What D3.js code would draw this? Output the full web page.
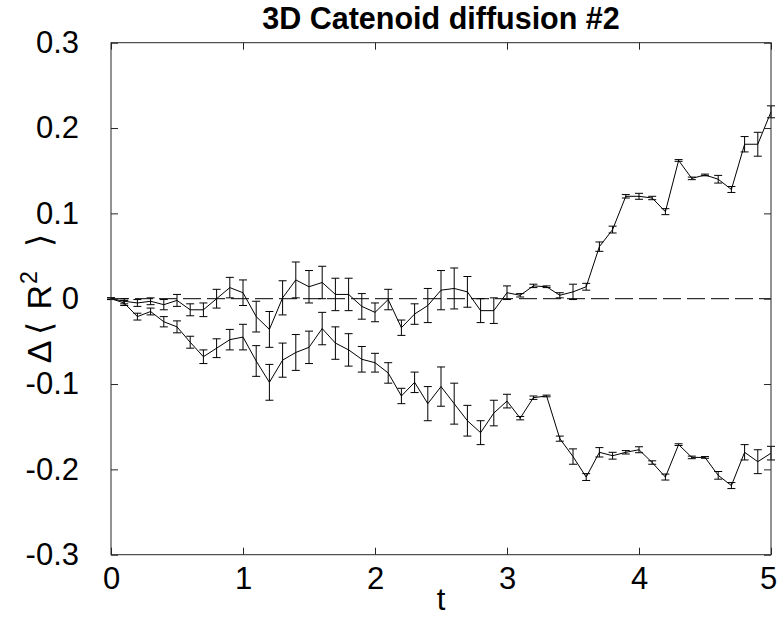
<!DOCTYPE html>
<html>
<head>
<meta charset="utf-8">
<script src="https://cdn.jsdelivr.net/npm/d3@7"></script>
<style>
  html, body { margin: 0; padding: 0; background: #fff; }
  svg { display: block; }
  text { font-family: "Liberation Sans", Arial, Helvetica, sans-serif; }
</style>
</head>
<body>
<svg id="chart" width="777" height="630"></svg>
<script>
// Sample times
const times = [0.0, 0.1, 0.2, 0.3, 0.4, 0.5, 0.6, 0.7, 0.8, 0.9,
               1.0, 1.1, 1.2, 1.3, 1.4, 1.5, 1.6, 1.7, 1.8, 1.9,
               2.0, 2.1, 2.2, 2.3, 2.4, 2.5, 2.6, 2.7, 2.8, 2.9,
               3.0, 3.1, 3.2, 3.3, 3.4, 3.5, 3.6, 3.7, 3.8, 3.9,
               4.0, 4.1, 4.2, 4.3, 4.4, 4.5, 4.6, 4.7, 4.8, 4.9, 5.0];

// Upper run: mean change of <R^2>
const upperMean = [0.000, -0.003, -0.005, -0.003, -0.007, -0.002, -0.013, -0.013, 0.000, 0.013,
                   0.007, -0.021, -0.036, 0.001, 0.022, 0.014, 0.019, 0.005, 0.005, -0.009,
                   -0.016, -0.001, -0.034, -0.018, -0.008, 0.010, 0.012, 0.008, -0.014, -0.014,
                   0.007, 0.004, 0.015, 0.014, 0.004, 0.008, 0.014, 0.061, 0.081, 0.120,
                   0.120, 0.118, 0.102, 0.162, 0.141, 0.145, 0.140, 0.128, 0.181, 0.181, 0.219];

// Lower run: mean change of <R^2>
const lowerMean = [0.000, -0.005, -0.021, -0.015, -0.027, -0.033, -0.051, -0.068, -0.058, -0.048,
                   -0.045, -0.073, -0.098, -0.072, -0.063, -0.057, -0.035, -0.052, -0.060, -0.071,
                   -0.075, -0.087, -0.114, -0.098, -0.123, -0.103, -0.123, -0.143, -0.157, -0.134,
                   -0.120, -0.140, -0.116, -0.114, -0.164, -0.185, -0.209, -0.180, -0.184, -0.180,
                   -0.177, -0.192, -0.209, -0.171, -0.186, -0.186, -0.207, -0.219, -0.180, -0.191, -0.181];

// Standard errors (half-heights of the error bars)
const upperErr = [0.001, 0.003, 0.004, 0.004, 0.006, 0.007, 0.007, 0.008, 0.011, 0.012,
                  0.015, 0.018, 0.021, 0.020, 0.021, 0.019, 0.019, 0.019, 0.019, 0.015,
                  0.011, 0.012, 0.009, 0.012, 0.020, 0.023, 0.024, 0.018, 0.014, 0.015,
                  0.008, 0.002, 0.002, 0.001, 0.003, 0.009, 0.004, 0.0055, 0.004, 0.002,
                  0.0035, 0.002, 0.0035, 0.001, 0.0015, 0.001, 0.0045, 0.0035, 0.009, 0.014, 0.007];
const lowerErr = [0.001, 0.003, 0.004, 0.004, 0.006, 0.007, 0.007, 0.008, 0.011, 0.012,
                  0.015, 0.018, 0.021, 0.020, 0.021, 0.019, 0.019, 0.019, 0.019, 0.015,
                  0.011, 0.012, 0.009, 0.012, 0.020, 0.023, 0.024, 0.018, 0.014, 0.015,
                  0.008, 0.002, 0.002, 0.001, 0.003, 0.009, 0.004, 0.0055, 0.004, 0.002,
                  0.0035, 0.002, 0.0035, 0.001, 0.0015, 0.001, 0.0045, 0.0035, 0.009, 0.014, 0.008];

const xTicks = [0, 1, 2, 3, 4, 5];
const xTickLabels = ["0", "1", "2", "3", "4", "5"];
const yTicks = [-0.3, -0.2, -0.1, 0, 0.1, 0.2, 0.3];
const yTickLabels = ["-0.3", "-0.2", "-0.1", "0", "0.1", "0.2", "0.3"];

const titleText = "3D Catenoid diffusion #2";
const xLabelText = "t";

// ---- layout ----
const plot = { left: 111, right: 771, top: 42.7, bottom: 554.7 };
const axisColor = "#262626";
const tickLen = 7;
const capHalf = 4;
const tickFont = "31px";

const svg = d3.select("#chart");
svg.append("rect").attr("width", 777).attr("height", 630).attr("fill", "#fff");

const x = d3.scaleLinear().domain([0, 5]).range([plot.left, plot.right]);
const y = d3.scaleLinear().domain([-0.3, 0.3]).range([plot.bottom, plot.top]);

// zero reference line
svg.append("line")
  .attr("x1", x(0)).attr("x2", x(5))
  .attr("y1", y(0)).attr("y2", y(0))
  .attr("stroke", "#000").attr("stroke-width", 1)
  .attr("stroke-dasharray", "18,6");

// series with error bars
const series = [
  { mean: upperMean, err: upperErr },
  { mean: lowerMean, err: lowerErr }
];

const line = d3.line().x(d => x(d.t)).y(d => y(d.v));

series.forEach(s => {
  const pts = times.map((t, i) => ({ t, v: s.mean[i], e: s.err[i] }));
  svg.append("path")
    .datum(pts)
    .attr("d", line)
    .attr("fill", "none")
    .attr("stroke", "#000")
    .attr("stroke-width", 1);

  const bars = svg.append("g")
    .attr("stroke", "#000").attr("stroke-width", 1)
    .selectAll("g").data(pts).join("g");
  bars.append("line")
    .attr("x1", d => x(d.t)).attr("x2", d => x(d.t))
    .attr("y1", d => y(d.v - d.e)).attr("y2", d => y(d.v + d.e));
  bars.append("line")
    .attr("x1", d => x(d.t) - capHalf).attr("x2", d => x(d.t) + capHalf)
    .attr("y1", d => y(d.v + d.e)).attr("y2", d => y(d.v + d.e));
  bars.append("line")
    .attr("x1", d => x(d.t) - capHalf).attr("x2", d => x(d.t) + capHalf)
    .attr("y1", d => y(d.v - d.e)).attr("y2", d => y(d.v - d.e));
});

// ---- axes (ticks point inward, box all round) ----
function styleAxis(g) {
  g.select(".domain").remove();
  g.selectAll(".tick line").attr("stroke", axisColor).attr("stroke-width", 1);
  g.selectAll(".tick text")
    .attr("fill", "#000")
    .style("font-size", tickFont);
}

const gBottom = svg.append("g")
  .attr("transform", `translate(0,${plot.bottom})`)
  .call(d3.axisBottom(x).tickValues(xTicks)
    .tickFormat((d, i) => xTickLabels[i])
    .tickSizeInner(-tickLen).tickSizeOuter(0).tickPadding(12));
styleAxis(gBottom);
// keep the last label inside the canvas
gBottom.selectAll(".tick text").filter(d => d === 5).attr("dx", -3);

const gTop = svg.append("g")
  .attr("transform", `translate(0,${plot.top})`)
  .call(d3.axisTop(x).tickValues(xTicks).tickFormat("")
    .tickSizeInner(-tickLen).tickSizeOuter(0));
styleAxis(gTop);

const gLeft = svg.append("g")
  .attr("transform", `translate(${plot.left},0)`)
  .call(d3.axisLeft(y).tickValues(yTicks)
    .tickFormat((d, i) => yTickLabels[i])
    .tickSizeInner(-tickLen).tickSizeOuter(0).tickPadding(32));
styleAxis(gLeft);

const gRight = svg.append("g")
  .attr("transform", `translate(${plot.right},0)`)
  .call(d3.axisRight(y).tickValues(yTicks).tickFormat("")
    .tickSizeInner(-tickLen).tickSizeOuter(0));
styleAxis(gRight);

svg.append("rect")
  .attr("x", plot.left).attr("y", plot.top)
  .attr("width", plot.right - plot.left).attr("height", plot.bottom - plot.top)
  .attr("fill", "none").attr("stroke", axisColor).attr("stroke-width", 1);

// ---- title and labels ----
svg.append("text")
  .attr("x", (plot.left + plot.right) / 2).attr("y", 29)
  .attr("text-anchor", "middle")
  .attr("font-weight", "bold")
  .style("font-size", "30.5px")
  .attr("fill", "#000")
  .text(titleText);

svg.append("text")
  .attr("x", (plot.left + plot.right) / 2).attr("y", 610)
  .attr("text-anchor", "middle")
  .style("font-size", "31px")
  .attr("fill", "#000")
  .text(xLabelText);

// y label: Δ⟨ R² ⟩ (rotated)
const yLab = svg.append("text")
  .attr("transform", `translate(51,${y(0)}) rotate(-90)`)
  .attr("text-anchor", "middle")
  .style("font-size", "34px")
  .attr("fill", "#000");
yLab.append("tspan").text("\u0394");
yLab.append("tspan").attr("dx", 6).text("\u27E8");
yLab.append("tspan").attr("dx", 12).text("R");
yLab.append("tspan").attr("dy", -14).attr("dx", 1).style("font-size", "23px").text("2");
yLab.append("tspan").attr("dy", 14).attr("dx", 24).text("\u27E9");
</script>
</body>
</html>
